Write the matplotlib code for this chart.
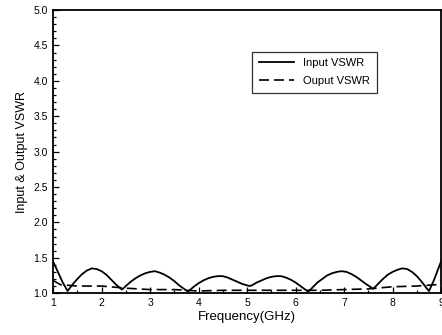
import matplotlib
matplotlib.use("Agg")
import matplotlib.pyplot as plt

# Input VSWR
f_in = [1.0, 1.1, 1.2, 1.3,
        1.4, 1.5, 1.6, 1.7, 1.8, 1.9, 2.0, 2.1, 2.2, 2.3, 2.42,
        2.5, 2.6, 2.7, 2.8, 2.9, 3.0, 3.1, 3.2, 3.3, 3.4, 3.5, 3.6, 3.7, 3.78,
        3.9, 4.0, 4.1, 4.2, 4.3, 4.4, 4.5, 4.6, 4.7, 4.8, 4.9, 5.05,
        5.1, 5.2, 5.3, 5.4, 5.5, 5.6, 5.7, 5.8, 5.9, 6.0, 6.1, 6.2, 6.26,
        6.35, 6.45, 6.55, 6.65, 6.75, 6.85, 6.95, 7.05, 7.15, 7.25, 7.35, 7.45, 7.6,
        7.7, 7.8, 7.9, 8.0, 8.1, 8.2, 8.3, 8.4, 8.5, 8.6, 8.7, 8.75,
        8.85, 9.0]
vswr_in = [1.45, 1.30, 1.15, 1.03,
           1.12, 1.20, 1.27, 1.32, 1.35, 1.34, 1.31, 1.26, 1.19, 1.12, 1.05,
           1.10, 1.16, 1.21, 1.25, 1.28, 1.30, 1.31, 1.29, 1.26, 1.22, 1.17, 1.11, 1.06, 1.02,
           1.09, 1.14, 1.18, 1.21, 1.23, 1.24, 1.24, 1.22, 1.19, 1.16, 1.13, 1.10,
           1.11, 1.15, 1.18, 1.21, 1.23, 1.24, 1.24, 1.22, 1.19, 1.15, 1.10, 1.05, 1.02,
           1.08, 1.15, 1.20, 1.25, 1.28, 1.30, 1.31, 1.30, 1.27, 1.23, 1.18, 1.13, 1.06,
           1.13, 1.20, 1.26, 1.30, 1.33, 1.35, 1.34, 1.30, 1.24, 1.16, 1.07, 1.03,
           1.18, 1.45]

# Output VSWR
f_out = [1.0, 1.15, 1.5, 2.0, 2.5, 3.0, 3.5, 4.0, 4.5, 5.0, 5.5, 6.0, 6.5, 7.0, 7.5, 8.0, 8.5, 8.9, 9.0]
vswr_out = [1.18, 1.12, 1.10, 1.10, 1.07, 1.05, 1.05, 1.03, 1.04, 1.04, 1.04, 1.04, 1.04,
            1.05, 1.06, 1.09, 1.10, 1.12, 1.18]

x_ticks = [1, 2, 3, 4, 5, 6, 7, 8, 9]
y_ticks = [1.0, 1.5, 2.0, 2.5, 3.0, 3.5, 4.0, 4.5, 5.0]

plt.rcParams["font.family"] = ["Liberation Sans", "DejaVu Sans"]

fig = plt.figure(figsize=(4.42, 3.35), dpi=100)
ax = fig.add_axes([0.12, 0.125, 0.878, 0.845])
ax.plot(f_in, vswr_in, color="black", lw=1.3, label="Input VSWR")
ax.plot(f_out, vswr_out, color="black", lw=1.2, ls=(0, (6, 3)), label="Ouput VSWR")

ax.set_xlim(1, 9)
ax.set_ylim(1.0, 5.0)
ax.set_xticks(x_ticks)
ax.set_yticks(y_ticks)
ax.set_yticklabels([f"{v:.1f}" for v in y_ticks])
ax.set_xticks([x + 0.5 for x in x_ticks[:-1]], minor=True)
ax.set_yticks([1.0 + 0.1 * i for i in range(41)], minor=True)
ax.tick_params(which="both", direction="in", labelsize=7.5, width=0.9)
ax.tick_params(which="major", length=4)
ax.tick_params(which="minor", length=2)
for s in ax.spines.values():
    s.set_linewidth(1.3)

ax.set_xlabel("Frequency(GHz)", fontsize=9.5, labelpad=2)
ax.set_ylabel("Input & Output VSWR", fontsize=9)

leg = ax.legend(loc="upper left", bbox_to_anchor=(0.498, 0.873), fontsize=8, frameon=True,
                fancybox=False, edgecolor="black", handlelength=3.2, borderpad=0.6,
                labelspacing=0.7)
leg.get_frame().set_linewidth(0.9)

fig.savefig("out.png", dpi=100)
